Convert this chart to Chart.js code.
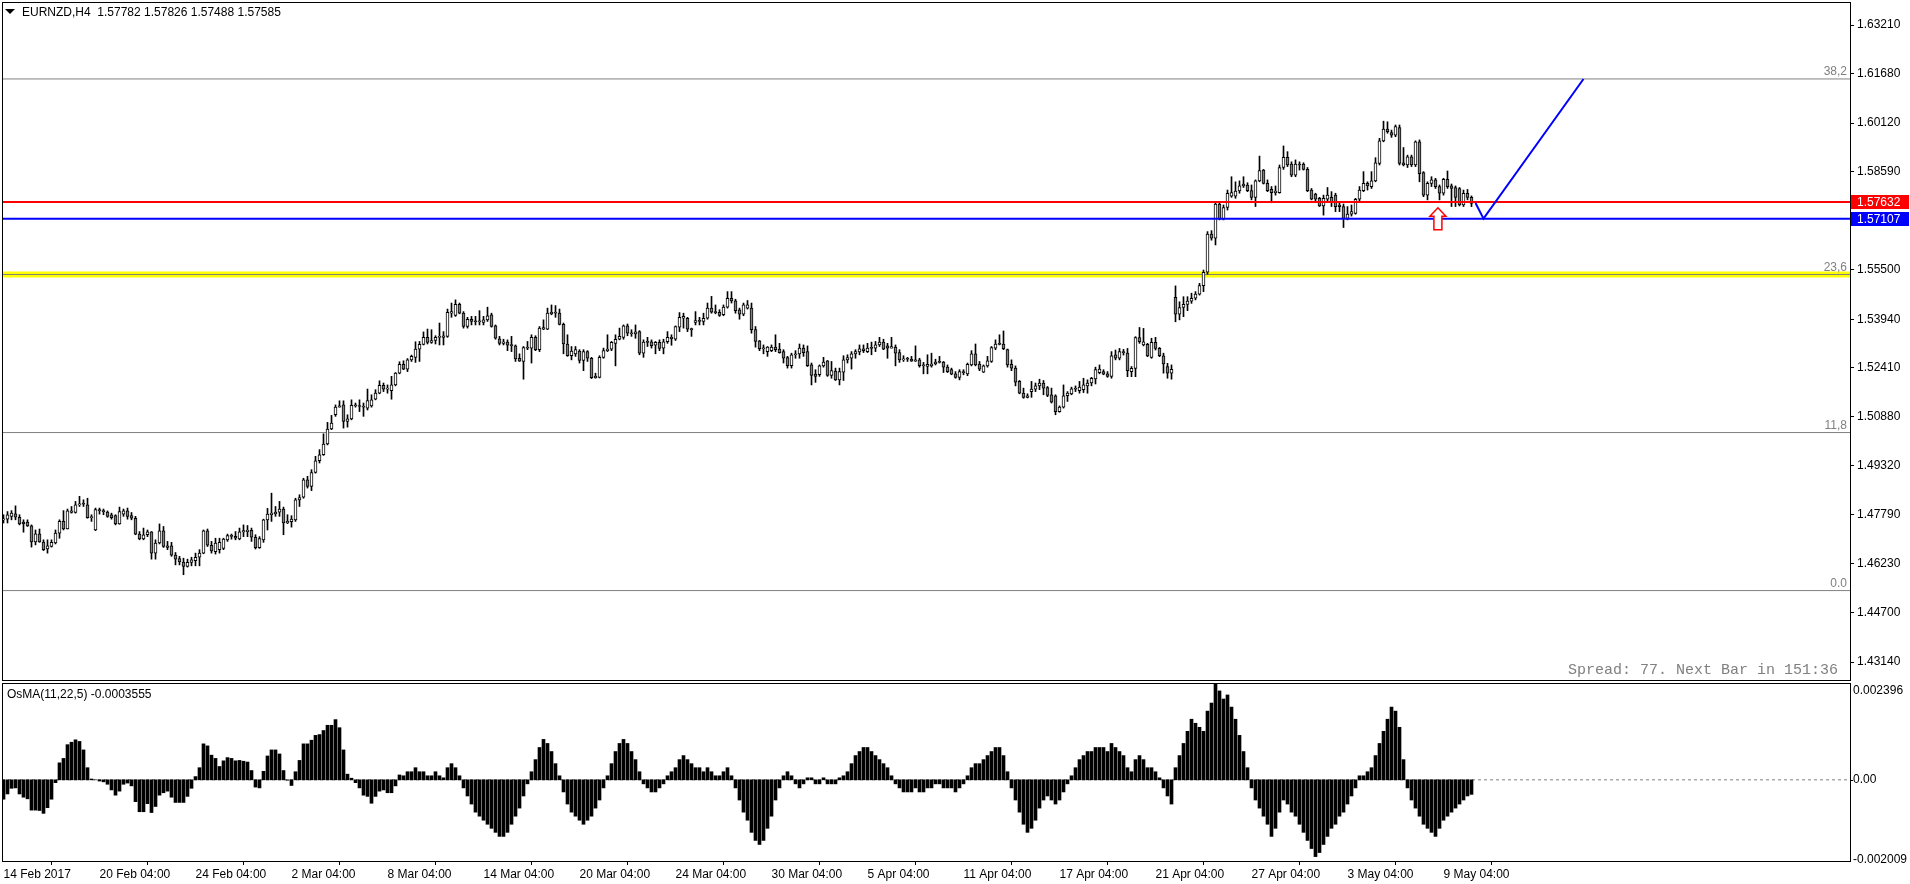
<!DOCTYPE html>
<html lang="en">
  <head>
    <meta charset="UTF-8" />
    <title>EURNZD,H4</title>
    <script src="https://cdn.jsdelivr.net/npm/chart.js"></script>
    <style>
      body {
        margin: 0;
        width: 1910px;
        height: 884px;
        overflow: hidden;
        position: relative;
        background: #ffffff;
        font-family: "Liberation Sans", Arial, sans-serif;
      }
      canvas {
        position: absolute;
        left: 0;
      }
      #mainChart {
        top: 0;
      }
      #osmaChart {
        top: 681px;
      }
      .txt {
        position: absolute;
        font-size: 12px;
        line-height: 14px;
        color: #000;
        white-space: pre;
      }
      #tri {
        position: absolute;
        left: 5px;
        top: 9px;
        width: 0;
        height: 0;
        border-left: 5px solid transparent;
        border-right: 5px solid transparent;
        border-top: 5px solid #000;
      }
      #header {
        left: 22px;
        top: 5px;
      }
      #osmaLabel {
        left: 7px;
        top: 687px;
      }
      #spread {
        right: 72px;
        top: 663px;
        font-family: "Liberation Mono", "Courier New", monospace;
        font-size: 15px;
        line-height: 16px;
        color: #808080;
      }
    </style>
  </head>
  <body>
    <canvas id="mainChart" width="1910" height="681"></canvas>
    <canvas id="osmaChart" width="1910" height="203"></canvas>

    <span id="tri"></span>
    <div id="header" class="txt">EURNZD,H4  1.57782 1.57826 1.57488 1.57585</div>
    <div id="osmaLabel" class="txt">OsMA(11,22,5) -0.0003555</div>
    <div id="spread" class="txt">Spread: 77. Next Bar in 151:36</div>

    <script>
      // H4 candles, one entry per bar
      const openP = [
        1.4762,1.4764,1.4773,1.4781,1.4770,1.4755,1.4755,1.4743,1.4692,1.4718,
        1.4692,1.4670,1.4678,1.4689,1.4720,1.4757,1.4733,1.4785,1.4785,1.4809,
        1.4812,1.4809,1.4769,1.4730,1.4794,1.4791,1.4786,1.4778,1.4775,1.4749,
        1.4780,1.4790,1.4775,1.4767,1.4717,1.4702,1.4715,1.4724,1.4657,1.4689,
        1.4727,1.4680,1.4680,1.4651,1.4640,1.4629,1.4615,1.4628,1.4633,1.4644,
        1.4657,1.4727,1.4682,1.4662,1.4668,1.4672,1.4699,1.4712,1.4710,1.4702,
        1.4724,1.4725,1.4729,1.4707,1.4674,1.4699,1.4762,1.4778,1.4781,1.4786,
        1.4796,1.4752,1.4756,1.4762,1.4825,1.4833,1.4888,1.4867,1.4911,1.4948,
        1.4967,1.5001,1.5048,1.5093,1.5117,1.5124,1.5072,1.5080,1.5123,1.5121,
        1.5119,1.5114,1.5121,1.5142,1.5161,1.5186,1.5174,1.5169,1.5187,1.5224,
        1.5252,1.5237,1.5266,1.5274,1.5300,1.5315,1.5337,1.5321,1.5327,1.5337,
        1.5337,1.5340,1.5413,1.5406,1.5441,1.5413,1.5371,1.5394,1.5387,1.5386,
        1.5384,1.5392,1.5408,1.5373,1.5332,1.5318,1.5322,1.5312,1.5310,1.5271,
        1.5261,1.5305,1.5303,1.5337,1.5298,1.5363,1.5363,1.5411,1.5416,1.5413,
        1.5378,1.5316,1.5279,1.5285,1.5294,1.5264,1.5292,1.5271,1.5210,1.5211,
        1.5274,1.5295,1.5300,1.5318,1.5331,1.5337,1.5373,1.5350,1.5348,1.5355,
        1.5287,1.5322,1.5323,1.5312,1.5321,1.5303,1.5323,1.5337,1.5331,1.5369,
        1.5397,1.5397,1.5363,1.5384,1.5390,1.5387,1.5397,1.5429,1.5416,1.5416,
        1.5408,1.5432,1.5460,1.5452,1.5424,1.5410,1.5429,1.5429,1.5361,1.5326,
        1.5301,1.5292,1.5295,1.5306,1.5300,1.5292,1.5273,1.5248,1.5282,1.5285,
        1.5303,1.5292,1.5250,1.5221,1.5219,1.5247,1.5263,1.5217,1.5231,1.5203,
        1.5227,1.5266,1.5271,1.5285,1.5291,1.5301,1.5292,1.5303,1.5303,1.5313,
        1.5322,1.5310,1.5303,1.5306,1.5289,1.5266,1.5269,1.5268,1.5262,1.5266,
        1.5248,1.5245,1.5247,1.5253,1.5259,1.5259,1.5243,1.5235,1.5222,1.5211,
        1.5229,1.5222,1.5250,1.5285,1.5253,1.5227,1.5247,1.5261,1.5303,1.5316,
        1.5316,1.5298,1.5252,1.5240,1.5198,1.5161,1.5148,1.5166,1.5174,1.5184,
        1.5193,1.5179,1.5156,1.5153,1.5103,1.5117,1.5153,1.5159,1.5175,1.5169,
        1.5172,1.5184,1.5193,1.5206,1.5226,1.5229,1.5222,1.5214,1.5282,1.5271,
        1.5292,1.5287,1.5229,1.5239,1.5336,1.5313,1.5315,1.5274,1.5321,1.5302,
        1.5279,1.5245,1.5224,1.5463,1.5410,1.5431,1.5441,1.5451,1.5460,1.5473,
        1.5500,1.5542,1.5662,1.5649,1.5757,1.5709,1.5746,1.5782,1.5782,1.5798,
        1.5814,1.5817,1.5799,1.5778,1.5830,1.5864,1.5822,1.5803,1.5793,1.5793,
        1.5872,1.5904,1.5883,1.5848,1.5883,1.5883,1.5866,1.5801,1.5788,1.5775,
        1.5751,1.5772,1.5778,1.5785,1.5754,1.5749,1.5712,1.5725,1.5727,1.5772,
        1.5799,1.5822,1.5812,1.5830,1.5885,1.5956,1.5993,1.5982,1.5974,1.5998,
        1.5887,1.5880,1.5906,1.5880,1.5953,1.5856,1.5785,1.5822,1.5833,1.5812,
        1.5791,1.5835,1.5814,1.5809,1.5806,1.5754,1.5791,1.57782
      ];
      const highP = [
        1.4778,1.4788,1.4791,1.4806,1.4778,1.4762,1.4762,1.4746,1.4730,1.4733,
        1.4699,1.4699,1.4699,1.4730,1.4762,1.4791,1.4796,1.4804,1.4820,1.4836,
        1.4825,1.4830,1.4778,1.4799,1.4799,1.4796,1.4790,1.4783,1.4778,1.4802,
        1.4796,1.4799,1.4785,1.4773,1.4725,1.4736,1.4730,1.4725,1.4699,1.4749,
        1.4741,1.4694,1.4691,1.4659,1.4647,1.4641,1.4638,1.4644,1.4657,1.4668,
        1.4730,1.4733,1.4694,1.4704,1.4704,1.4704,1.4717,1.4717,1.4725,1.4736,
        1.4746,1.4744,1.4736,1.4715,1.4709,1.4764,1.4798,1.4846,1.4804,1.4820,
        1.4802,1.4778,1.4775,1.4830,1.4841,1.4893,1.4899,1.4920,1.4962,1.4983,
        1.5033,1.5069,1.5091,1.5124,1.5137,1.5137,1.5093,1.5140,1.5130,1.5140,
        1.5130,1.5174,1.5156,1.5172,1.5200,1.5193,1.5187,1.5214,1.5226,1.5260,
        1.5263,1.5270,1.5281,1.5323,1.5324,1.5354,1.5363,1.5361,1.5342,1.5382,
        1.5355,1.5426,1.5445,1.5455,1.5445,1.5418,1.5400,1.5403,1.5403,1.5421,
        1.5403,1.5432,1.5413,1.5376,1.5340,1.5331,1.5329,1.5340,1.5313,1.5285,
        1.5308,1.5324,1.5345,1.5342,1.5371,1.5392,1.5429,1.5439,1.5437,1.5426,
        1.5382,1.5345,1.5308,1.5308,1.5298,1.5298,1.5295,1.5274,1.5224,1.5279,
        1.5303,1.5345,1.5324,1.5345,1.5366,1.5376,1.5379,1.5361,1.5376,1.5358,
        1.5329,1.5337,1.5329,1.5324,1.5329,1.5331,1.5355,1.5345,1.5373,1.5415,
        1.5413,1.5400,1.5366,1.5418,1.5400,1.5413,1.5445,1.5466,1.5439,1.5424,
        1.5439,1.5481,1.5481,1.5457,1.5429,1.5445,1.5453,1.5445,1.5371,1.5327,
        1.5313,1.5308,1.5313,1.5345,1.5318,1.5298,1.5277,1.5287,1.5295,1.5316,
        1.5313,1.5310,1.5256,1.5235,1.5250,1.5274,1.5264,1.5261,1.5240,1.5240,
        1.5279,1.5282,1.5292,1.5298,1.5313,1.5313,1.5318,1.5322,1.5324,1.5337,
        1.5331,1.5318,1.5337,1.5313,1.5298,1.5279,1.5274,1.5277,1.5310,1.5271,
        1.5258,1.5282,1.5287,1.5268,1.5277,1.5261,1.5250,1.5240,1.5229,1.5235,
        1.5235,1.5256,1.5295,1.5316,1.5261,1.5250,1.5277,1.5308,1.5329,1.5345,
        1.5357,1.5300,1.5266,1.5247,1.5201,1.5177,1.5159,1.5198,1.5193,1.5205,
        1.5201,1.5182,1.5177,1.5156,1.5121,1.5187,1.5166,1.5180,1.5184,1.5198,
        1.5208,1.5203,1.5211,1.5243,1.5250,1.5235,1.5229,1.5292,1.5297,1.5302,
        1.5299,1.5302,1.5245,1.5339,1.5368,1.5365,1.5318,1.5334,1.5337,1.5305,
        1.5287,1.5255,1.5250,1.5499,1.5449,1.5465,1.5465,1.5476,1.5481,1.5507,
        1.5549,1.5670,1.5673,1.5764,1.5764,1.5754,1.5801,1.5843,1.5827,1.5830,
        1.5843,1.5824,1.5817,1.5833,1.5908,1.5866,1.5833,1.5812,1.5814,1.5880,
        1.5940,1.5922,1.5890,1.5896,1.5890,1.5887,1.5872,1.5806,1.5791,1.5778,
        1.5785,1.5809,1.5796,1.5791,1.5764,1.5757,1.5749,1.5754,1.5775,1.5812,
        1.5859,1.5827,1.5859,1.5903,1.5964,1.6018,1.6016,1.5990,1.6006,1.6006,
        1.5935,1.5911,1.5911,1.5956,1.5959,1.5859,1.5827,1.5843,1.5838,1.5817,
        1.5838,1.5861,1.5820,1.5814,1.5809,1.5801,1.5803,1.57826
      ];
      const lowP = [
        1.4752,1.4752,1.4762,1.4762,1.4746,1.4723,1.4741,1.4676,1.4683,1.4691,
        1.4665,1.4657,1.4676,1.4686,1.4704,1.4730,1.4733,1.4783,1.4783,1.4804,
        1.4804,1.4767,1.4757,1.4728,1.4780,1.4778,1.4770,1.4764,1.4746,1.4748,
        1.4773,1.4764,1.4762,1.4715,1.4699,1.4699,1.4709,1.4638,1.4638,1.4686,
        1.4675,1.4668,1.4647,1.4620,1.4620,1.4589,1.4613,1.4617,1.4617,1.4617,
        1.4655,1.4678,1.4657,1.4654,1.4657,1.4668,1.4694,1.4701,1.4699,1.4699,
        1.4709,1.4709,1.4694,1.4670,1.4672,1.4691,1.4730,1.4757,1.4773,1.4773,
        1.4715,1.4750,1.4739,1.4757,1.4804,1.4830,1.4862,1.4854,1.4909,1.4941,
        1.4965,1.4998,1.5046,1.5088,1.5117,1.5051,1.5054,1.5077,1.5117,1.5103,
        1.5088,1.5108,1.5117,1.5140,1.5159,1.5166,1.5161,1.5142,1.5184,1.5222,
        1.5235,1.5229,1.5261,1.5258,1.5261,1.5313,1.5316,1.5318,1.5316,1.5313,
        1.5313,1.5337,1.5400,1.5403,1.5411,1.5366,1.5366,1.5376,1.5376,1.5376,
        1.5376,1.5387,1.5369,1.5331,1.5313,1.5313,1.5295,1.5292,1.5261,1.5261,
        1.5205,1.5298,1.5256,1.5295,1.5292,1.5361,1.5361,1.5408,1.5400,1.5376,
        1.5285,1.5277,1.5266,1.5277,1.5256,1.5232,1.5261,1.5207,1.5208,1.5209,
        1.5271,1.5292,1.5295,1.5247,1.5329,1.5331,1.5342,1.5340,1.5334,1.5282,
        1.5274,1.5308,1.5303,1.5285,1.5295,1.5285,1.5318,1.5312,1.5327,1.5355,
        1.5366,1.5355,1.5340,1.5376,1.5376,1.5376,1.5394,1.5413,1.5411,1.5403,
        1.5405,1.5429,1.5445,1.5413,1.5394,1.5405,1.5426,1.5350,1.5306,1.5295,
        1.5285,1.5277,1.5292,1.5292,1.5287,1.5256,1.5240,1.5240,1.5271,1.5271,
        1.5277,1.5245,1.5187,1.5195,1.5214,1.5243,1.5214,1.5208,1.5201,1.5187,
        1.5201,1.5256,1.5237,1.5271,1.5282,1.5289,1.5289,1.5282,1.5292,1.5308,
        1.5298,1.5271,1.5303,1.5247,1.5258,1.5261,1.5261,1.5261,1.5261,1.5243,
        1.5222,1.5222,1.5243,1.5250,1.5256,1.5226,1.5226,1.5219,1.5208,1.5203,
        1.5219,1.5216,1.5247,1.5247,1.5232,1.5226,1.5243,1.5258,1.5298,1.5313,
        1.5298,1.5243,1.5232,1.5184,1.5159,1.5145,1.5146,1.5148,1.5166,1.5172,
        1.5156,1.5150,1.5130,1.5093,1.5101,1.5114,1.5135,1.5156,1.5166,1.5161,
        1.5163,1.5161,1.5184,1.5190,1.5222,1.5219,1.5211,1.5208,1.5266,1.5266,
        1.5281,1.5213,1.5213,1.5213,1.5318,1.5310,1.5276,1.5271,1.5297,1.5276,
        1.5224,1.5208,1.5205,1.5386,1.5392,1.5402,1.5421,1.5444,1.5455,1.5470,
        1.5481,1.5536,1.5643,1.5628,1.5707,1.5707,1.5738,1.5778,1.5775,1.5791,
        1.5809,1.5796,1.5770,1.5749,1.5827,1.5820,1.5796,1.5761,1.5785,1.5791,
        1.5866,1.5875,1.5843,1.5843,1.5864,1.5864,1.5796,1.5770,1.5767,1.5749,
        1.5722,1.5764,1.5749,1.5733,1.5733,1.5683,1.5707,1.5719,1.5725,1.5767,
        1.5796,1.5801,1.5806,1.5827,1.5880,1.5953,1.5980,1.5967,1.5969,1.5880,
        1.5877,1.5872,1.5875,1.5875,1.5827,1.5780,1.5770,1.5812,1.5806,1.5770,
        1.5785,1.5806,1.5749,1.5749,1.5751,1.5749,1.5770,1.57488
      ];
      const closeP = [
        1.4763,1.4778,1.4783,1.4770,1.4749,1.4749,1.4743,1.4692,1.4718,1.4692,
        1.4668,1.4680,1.4691,1.4720,1.4757,1.4733,1.4790,1.4790,1.4809,1.4812,
        1.4811,1.4769,1.4771,1.4794,1.4791,1.4788,1.4773,1.4769,1.4749,1.4788,
        1.4790,1.4773,1.4767,1.4717,1.4702,1.4715,1.4724,1.4657,1.4689,1.4727,
        1.4678,1.4675,1.4651,1.4638,1.4629,1.4615,1.4628,1.4636,1.4644,1.4657,
        1.4727,1.4682,1.4664,1.4689,1.4691,1.4701,1.4712,1.4710,1.4704,1.4724,
        1.4728,1.4729,1.4707,1.4674,1.4703,1.4762,1.4780,1.4783,1.4786,1.4796,
        1.4752,1.4757,1.4764,1.4825,1.4832,1.4888,1.4867,1.4911,1.4948,1.4967,
        1.5001,1.5048,1.5067,1.5117,1.5121,1.5072,1.5080,1.5123,1.5121,1.5119,
        1.5117,1.5138,1.5140,1.5161,1.5186,1.5174,1.5177,1.5187,1.5224,1.5252,
        1.5237,1.5266,1.5277,1.5300,1.5315,1.5337,1.5321,1.5327,1.5337,1.5340,
        1.5342,1.5416,1.5418,1.5441,1.5413,1.5371,1.5394,1.5387,1.5386,1.5388,
        1.5392,1.5405,1.5371,1.5334,1.5318,1.5323,1.5312,1.5311,1.5269,1.5262,
        1.5305,1.5303,1.5337,1.5298,1.5366,1.5368,1.5413,1.5416,1.5413,1.5378,
        1.5316,1.5279,1.5294,1.5298,1.5264,1.5292,1.5271,1.5210,1.5214,1.5274,
        1.5295,1.5300,1.5321,1.5331,1.5340,1.5373,1.5350,1.5348,1.5354,1.5287,
        1.5322,1.5321,1.5311,1.5321,1.5302,1.5323,1.5337,1.5333,1.5371,1.5400,
        1.5403,1.5363,1.5361,1.5390,1.5387,1.5397,1.5429,1.5416,1.5415,1.5406,
        1.5432,1.5460,1.5452,1.5421,1.5410,1.5439,1.5439,1.5361,1.5324,1.5301,
        1.5303,1.5306,1.5306,1.5298,1.5289,1.5271,1.5248,1.5282,1.5285,1.5303,
        1.5289,1.5248,1.5217,1.5214,1.5247,1.5259,1.5217,1.5232,1.5203,1.5229,
        1.5266,1.5273,1.5285,1.5292,1.5301,1.5295,1.5303,1.5302,1.5313,1.5322,
        1.5300,1.5303,1.5308,1.5287,1.5266,1.5269,1.5268,1.5262,1.5266,1.5248,
        1.5247,1.5252,1.5253,1.5259,1.5258,1.5243,1.5229,1.5221,1.5211,1.5229,
        1.5226,1.5252,1.5285,1.5250,1.5237,1.5247,1.5263,1.5305,1.5316,1.5315,
        1.5301,1.5250,1.5240,1.5196,1.5161,1.5148,1.5153,1.5174,1.5184,1.5193,
        1.5177,1.5154,1.5133,1.5103,1.5117,1.5153,1.5161,1.5175,1.5174,1.5180,
        1.5187,1.5193,1.5208,1.5235,1.5237,1.5221,1.5214,1.5279,1.5271,1.5292,
        1.5289,1.5232,1.5239,1.5336,1.5323,1.5323,1.5278,1.5321,1.5302,1.5279,
        1.5253,1.5224,1.5236,1.5410,1.5431,1.5441,1.5451,1.5460,1.5473,1.5500,
        1.5542,1.5662,1.5649,1.5757,1.5709,1.5746,1.5791,1.5793,1.5798,1.5814,
        1.5820,1.5799,1.5778,1.5830,1.5862,1.5822,1.5799,1.5793,1.5798,1.5872,
        1.5904,1.5880,1.5848,1.5883,1.5880,1.5866,1.5799,1.5772,1.5772,1.5751,
        1.5775,1.5785,1.5764,1.5749,1.5749,1.5712,1.5725,1.5733,1.5772,1.5801,
        1.5822,1.5814,1.5830,1.5887,1.5956,1.5993,1.5985,1.5974,1.6001,1.5885,
        1.5880,1.5906,1.5880,1.5953,1.5853,1.5785,1.5822,1.5833,1.5812,1.5791,
        1.5835,1.5812,1.5806,1.5778,1.5754,1.5791,1.5778,1.57585
      ];

      // OsMA(11,22,5) histogram, one value per bar
      const osmaValues = [
        -0.00048,-0.00035,-0.00021,-0.00020,-0.00035,-0.00043,-0.00047,-0.00075,-0.00075,-0.00076,
        -0.00083,-0.00069,-0.00048,-0.00007,0.00042,0.00053,0.00087,0.00093,0.00099,0.00095,
        0.00074,0.00030,0.00002,0.00000,-0.00003,-0.00005,-0.00011,-0.00025,-0.00038,-0.00028,
        -0.00011,-0.00008,-0.00015,-0.00054,-0.00079,-0.00079,-0.00059,-0.00081,-0.00066,-0.00038,
        -0.00032,-0.00028,-0.00043,-0.00056,-0.00056,-0.00056,-0.00041,-0.00021,0.00008,0.00030,
        0.00089,0.00084,0.00061,0.00053,0.00033,0.00047,0.00055,0.00053,0.00047,0.00048,
        0.00046,0.00044,0.00023,-0.00018,-0.00020,0.00021,0.00059,0.00074,0.00074,0.00064,
        0.00023,-0.00001,-0.00014,0.00020,0.00048,0.00089,0.00089,0.00098,0.00110,0.00112,
        0.00122,0.00135,0.00135,0.00149,0.00129,0.00074,0.00014,0.00004,-0.00007,-0.00020,
        -0.00038,-0.00041,-0.00058,-0.00041,-0.00028,-0.00025,-0.00032,-0.00032,-0.00015,0.00012,
        0.0001,0.0002,0.0002,0.0003,0.0002,0.0002,0.0001,0.0001,0.0002,0.0001,
        0.00005,0.0003,0.0004,0.0003,0.0001,-0.0002,-0.0004,-0.0006,-0.0008,-0.0009,
        -0.0010,-0.0011,-0.0012,-0.0013,-0.0014,-0.0014,-0.0013,-0.0011,-0.0009,-0.0007,
        -0.0004,-0.0001,0.0002,0.0005,0.0008,0.0010,0.0009,0.0007,0.0004,0.0001,
        -0.0003,-0.0006,-0.0008,-0.0009,-0.0010,-0.0011,-0.0010,-0.0009,-0.0007,-0.0005,
        -0.0002,0.0001,0.0004,0.0007,0.0009,0.0010,0.0009,0.0007,0.0005,0.0002,
        -0.0001,-0.0002,-0.0003,-0.0003,-0.0002,-0.0001,0.0001,0.0002,0.0003,0.0005,
        0.0006,0.0005,0.0004,0.0003,0.0003,0.0002,0.0003,0.0002,0.0001,0.0001,
        0.0002,0.0003,0.0001,-0.0002,-0.0005,-0.0008,-0.0010,-0.0013,-0.0015,-0.0016,
        -0.0015,-0.0012,-0.0009,-0.0005,-0.0002,0.0001,0.0002,0.0001,-0.0001,-0.0002,
        -0.0001,0.00005,0.00005,-0.0001,-0.0001,0.00005,-0.0001,-0.0001,-0.0001,0.00005,
        0.0001,0.0002,0.0004,0.0006,0.0007,0.0008,0.0008,0.0007,0.0006,0.0005,
        0.0004,0.0003,0.0001,-0.0001,-0.0002,-0.0003,-0.0003,-0.0003,-0.0002,-0.0003,
        -0.0003,-0.0002,-0.0002,-0.0001,-0.0001,-0.0002,-0.0002,-0.0002,-0.0003,-0.0002,
        -0.0001,0.0001,0.0003,0.0004,0.0004,0.0005,0.0006,0.0007,0.0008,0.0008,
        0.0006,0.0002,-0.0002,-0.0005,-0.0008,-0.0011,-0.0013,-0.0012,-0.0010,-0.0007,
        -0.0005,-0.0004,-0.0005,-0.0006,-0.0005,-0.0003,-0.0001,0.0001,0.0003,0.0005,
        0.0006,0.0007,0.0007,0.0008,0.0008,0.0008,0.0007,0.0009,0.0008,0.0007,
        0.0006,0.0003,0.0002,0.0005,0.0006,0.0005,0.0003,0.0003,0.0002,0.00005,
        -0.0002,-0.0004,-0.0006,0.0003,0.0006,0.0009,0.0012,0.0015,0.0014,0.0013,
        0.0012,0.0017,0.0019,0.0024,0.0022,0.0020,0.0021,0.0018,0.0015,0.0011,
        0.0007,0.0003,-0.0002,-0.0005,-0.0007,-0.0009,-0.0011,-0.0014,-0.0012,-0.0008,
        -0.0005,-0.0006,-0.0008,-0.0009,-0.0011,-0.0013,-0.0015,-0.0017,-0.0019,-0.0018,
        -0.0016,-0.0014,-0.0012,-0.0011,-0.0009,-0.0008,-0.0006,-0.0004,-0.0002,0.0001,
        0.0001,0.0002,0.0003,0.0006,0.0009,0.0012,0.0015,0.0018,0.0017,0.0013,
        0.0005,-0.0002,-0.0005,-0.0007,-0.0009,-0.0011,-0.0012,-0.0013,-0.0014,-0.0012,
        -0.0010,-0.0009,-0.0008,-0.0007,-0.0006,-0.0005,-0.0004,-0.00036
      ];

      // time axis
      const timeTickBars = [0, 24, 48, 72, 96, 120, 144, 168, 192, 216, 240, 264, 288, 312, 336, 360];
      const timeTickLabels = [
        "14 Feb 2017", "20 Feb 04:00", "24 Feb 04:00", "2 Mar 04:00", "8 Mar 04:00",
        "14 Mar 04:00", "20 Mar 04:00", "24 Mar 04:00", "30 Mar 04:00", "5 Apr 04:00",
        "11 Apr 04:00", "17 Apr 04:00", "21 Apr 04:00", "27 Apr 04:00", "3 May 04:00", "9 May 04:00"
      ];

      // price scale
      const priceTicks = [1.4314, 1.447, 1.4623, 1.4779, 1.4932, 1.5088, 1.5241, 1.5394, 1.555, 1.5859, 1.6012, 1.6168, 1.6321];
      const priceMin = 1.42573;
      const priceMax = 1.63935;

      // objects on the chart
      const fibLevels = [1.6151, 1.5535, 1.5037, 1.4539];
      const fibLabels = ["38,2", "23,6", "11,8", "0.0"];
      const yellowLevel = 1.5535;
      const redLevel = 1.57632;
      const blueLevel = 1.57107;
      const projBars = [368, 370, 395];
      const projPrices = [1.576, 1.5711, 1.6151];
      const arrowBar = 358.6;
      const arrowPrice = 1.5745;

      // OsMA scale
      const osmaMin = -0.002009;
      const osmaMax = 0.002396;
      const osmaTickValues = [0.002396, 0, -0.002009];
      const osmaTickLabels = ["0.002396", "0.00", "-0.002009"];

      const X_MIN = -0.375;
      const X_MAX = 461.625;
      const FONT = '"Liberation Sans", Arial, sans-serif';

      Chart.defaults.font.family = FONT;
      Chart.defaults.font.size = 12;
      Chart.defaults.color = "#000";

      const hLine = (level) => [
        { x: X_MIN, y: level },
        { x: X_MAX, y: level },
      ];

      // panel frame
      const framePlugin = {
        id: "frame",
        afterDraw(chart) {
          const { ctx, chartArea: a } = chart;
          ctx.save();
          ctx.strokeStyle = "#000";
          ctx.lineWidth = 1;
          ctx.strokeRect(a.left + 0.5, a.top + 0.5, a.right - a.left, a.bottom - a.top);
          ctx.restore();
        },
      };

      const mainLabels = {
        id: "mainLabels",
        afterDraw(chart) {
          const { ctx, chartArea: a } = chart;
          const xs = chart.scales.x;
          const ys = chart.scales.y;
          ctx.save();

          // fibo level captions
          ctx.font = "12px " + FONT;
          ctx.fillStyle = "#808080";
          ctx.textAlign = "right";
          ctx.textBaseline = "bottom";
          fibLevels.forEach((lv, i) => {
            ctx.fillText(fibLabels[i], a.right - 3, ys.getPixelForValue(lv) - 1);
          });

          // price boxes for the red and blue lines
          [
            [redLevel, "#ff0000"],
            [blueLevel, "#0000ff"],
          ].forEach(([lv, col]) => {
            const y = Math.round(ys.getPixelForValue(lv));
            ctx.fillStyle = col;
            ctx.fillRect(a.right + 1, y - 7, 58, 14);
            ctx.fillStyle = "#fff";
            ctx.textAlign = "left";
            ctx.textBaseline = "middle";
            ctx.fillText(lv.toFixed(5), a.right + 7, y + 0.5);
          });

          // up arrow
          const px = xs.getPixelForValue(arrowBar);
          const py = ys.getPixelForValue(arrowPrice);
          ctx.beginPath();
          ctx.moveTo(px, py);
          ctx.lineTo(px + 8, py + 8.5);
          ctx.lineTo(px + 4, py + 8.5);
          ctx.lineTo(px + 4, py + 22);
          ctx.lineTo(px - 4, py + 22);
          ctx.lineTo(px - 4, py + 8.5);
          ctx.lineTo(px - 8, py + 8.5);
          ctx.closePath();
          ctx.fillStyle = "#fff";
          ctx.fill();
          ctx.strokeStyle = "#ff0000";
          ctx.lineWidth = 1.5;
          ctx.stroke();
          ctx.restore();
        },
      };

      const osmaLabels = {
        id: "osmaLabels",
        afterDraw(chart) {
          const { ctx, chartArea: a } = chart;
          const ys = chart.scales.y;
          ctx.save();
          ctx.font = "12px " + FONT;
          ctx.fillStyle = "#000";
          ctx.textAlign = "left";
          ctx.textBaseline = "middle";
          const shift = [8, 0, -1.5];
          osmaTickValues.forEach((v, i) => {
            ctx.fillText(osmaTickLabels[i], a.right + 3, ys.getPixelForValue(v) + shift[i]);
          });
          ctx.strokeStyle = "#000";
          ctx.beginPath();
          const y0 = Math.round(ys.getPixelForValue(0)) + 0.5;
          ctx.moveTo(a.right, y0);
          ctx.lineTo(a.right + 3, y0);
          ctx.stroke();
          ctx.restore();
        },
      };

      const candleIdx = closeP.map((c, i) => i);
      const bodyColors = closeP.map((c, i) => (c >= openP[i] ? "#ffffff" : "#808080"));

      new Chart(document.getElementById("mainChart"), {
        type: "bar",
        data: {
          datasets: [
            {
              type: "line",
              data: hLine(yellowLevel),
              borderColor: "#ffff00",
              borderWidth: 6,
              pointRadius: 0,
              order: 20,
            },
            ...fibLevels.map((lv) => ({
              type: "line",
              data: hLine(lv),
              borderColor: "#808080",
              borderWidth: 1,
              pointRadius: 0,
              order: 15,
            })),
            {
              label: "wicks",
              data: candleIdx.map((i) => ({ x: i, y: [lowP[i], highP[i]] })),
              backgroundColor: "#000",
              barThickness: 1,
              minBarLength: 1,
              grouped: false,
              order: 10,
            },
            {
              label: "bodies",
              data: candleIdx.map((i) => ({ x: i, y: [openP[i], closeP[i]] })),
              backgroundColor: bodyColors,
              borderColor: "#000",
              borderWidth: 1,
              borderSkipped: false,
              barThickness: 3,
              minBarLength: 1,
              grouped: false,
              order: 9,
            },
            {
              type: "line",
              data: hLine(redLevel),
              borderColor: "#ff0000",
              borderWidth: 2,
              pointRadius: 0,
              order: 3,
            },
            {
              type: "line",
              data: hLine(blueLevel),
              borderColor: "#0000ff",
              borderWidth: 2,
              pointRadius: 0,
              order: 3,
            },
            {
              type: "line",
              data: projBars.map((b, i) => ({ x: b, y: projPrices[i] })),
              borderColor: "#0000ff",
              borderWidth: 2,
              pointRadius: 0,
              order: 1,
            },
          ],
        },
        options: {
          responsive: false,
          animation: false,
          devicePixelRatio: 1,
          layout: { padding: { left: 2, top: 2, right: 0, bottom: 1 } },
          plugins: { legend: { display: false }, tooltip: { enabled: false } },
          scales: {
            x: { type: "linear", display: false, min: X_MIN, max: X_MAX, offset: false },
            y: {
              position: "right",
              min: priceMin,
              max: priceMax,
              afterBuildTicks: (s) => {
                s.ticks = priceTicks.map((v) => ({ value: v }));
              },
              afterFit: (s) => {
                s.width = 60;
                s.paddingTop = 0;
                s.paddingBottom = 0;
              },
              ticks: { callback: (v) => v.toFixed(5), padding: 3, color: "#000" },
              grid: { drawOnChartArea: false, drawTicks: true, tickLength: 4, color: "#000" },
              border: { color: "#000" },
            },
          },
        },
        plugins: [framePlugin, mainLabels],
      });

      new Chart(document.getElementById("osmaChart"), {
        type: "bar",
        data: {
          datasets: [
            {
              type: "line",
              data: hLine(0),
              borderColor: "#808080",
              borderWidth: 1,
              borderDash: [3, 3],
              pointRadius: 0,
              order: 5,
            },
            {
              label: "OsMA",
              data: osmaValues.map((v, i) => ({ x: i, y: v })),
              backgroundColor: "#000",
              barThickness: 3,
              grouped: false,
              order: 1,
            },
          ],
        },
        options: {
          responsive: false,
          animation: false,
          devicePixelRatio: 1,
          layout: { padding: { left: 2, top: 2, right: 0, bottom: 0 } },
          plugins: { legend: { display: false }, tooltip: { enabled: false } },
          scales: {
            x: {
              type: "linear",
              min: X_MIN,
              max: X_MAX,
              offset: false,
              afterBuildTicks: (s) => {
                s.ticks = timeTickBars.map((v) => ({ value: v }));
              },
              afterFit: (s) => {
                s.height = 23;
                s.paddingLeft = 0;
                s.paddingRight = 0;
              },
              ticks: {
                callback: (v, i) => timeTickLabels[i],
                align: "start",
                maxRotation: 0,
                autoSkip: false,
                padding: 2,
                color: "#000",
              },
              grid: { drawOnChartArea: false, drawTicks: true, tickLength: 4, color: "#000" },
              border: { color: "#000" },
            },
            y: {
              position: "right",
              min: osmaMin,
              max: osmaMax,
              ticks: { display: false },
              grid: { display: false },
              border: { color: "#000" },
              afterFit: (s) => {
                s.width = 60;
                s.paddingTop = 0;
                s.paddingBottom = 0;
              },
            },
          },
        },
        plugins: [framePlugin, osmaLabels],
      });
    </script>
  </body>
</html>
